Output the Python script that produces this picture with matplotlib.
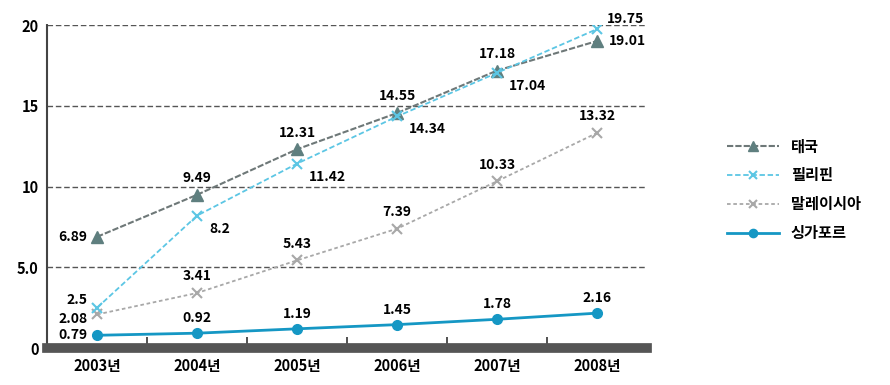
import matplotlib.pyplot as plt
import numpy as np

plt.rcParams['font.family'] = ['Noto Sans CJK KR', 'DejaVu Sans']

# --- data ---
years = ['2003년', '2004년', '2005년', '2006년', '2007년', '2008년']
thailand = [6.89, 9.49, 12.31, 14.55, 17.18, 19.01]
philippines = [2.5, 8.2, 11.42, 14.34, 17.04, 19.75]
malaysia = [2.08, 3.41, 5.43, 7.39, 10.33, 13.32]
singapore = [0.79, 0.92, 1.19, 1.45, 1.78, 2.16]
yticks = [0, 5, 10, 15, 20]
ytick_labels = ['0', '5.0', '10', '15', '20']

fig = plt.figure(figsize=(8.9, 3.85), dpi=100)
ax = fig.add_axes([0.053, 0.096, 0.674, 0.839])
x = np.arange(len(years))

ax.plot(x, thailand, color='#6e7878', lw=1.5, ls=(0, (3, 1)), marker='^', ms=8,
        mfc='#5f7f7f', mec='#5f7f7f', label='태국', zorder=4)
ax.plot(x, philippines, color='#5cc6e4', lw=1.3, ls=(0, (3, 1.5)), marker='x', ms=7,
        mew=1.5, label='필리핀', zorder=4)
ax.plot(x, malaysia, color='#a8a8a8', lw=1.3, ls=(0, (2, 1.5)), marker='x', ms=7,
        mew=1.5, label='말레이시아', zorder=3)
ax.plot(x, singapore, color='#1597c4', lw=2, marker='o', ms=7,
        label='싱가포르', zorder=4)

ax.set_xlim(-0.5, len(years) - 0.5)
ax.set_ylim(0, 20)
ax.set_yticks(yticks)
ax.set_yticklabels(ytick_labels, fontsize=10.5, fontweight='bold')
ax.set_xticks(x)
ax.set_xticklabels(years, fontsize=10.5, fontweight='bold')
ax.tick_params(axis='x', length=0, pad=7)
ax.tick_params(axis='y', length=0, pad=6)
ax.set_xticks(np.arange(0.5, len(years) - 1, 1), minor=True)
ax.tick_params(axis='x', which='minor', direction='in', length=8, width=1.2, color='#333333')

ax.grid(axis='y', ls=(0, (4, 2)), color='#555555', lw=1)
ax.set_axisbelow(True)
for s in ['top', 'right']:
    ax.spines[s].set_visible(False)
ax.spines['left'].set_linestyle((0, (1, 1)))
ax.spines['left'].set_color('#444444')
ax.spines['left'].set_linewidth(1.5)
ax.spines['bottom'].set_color('#555555')
ax.spines['bottom'].set_linewidth(7)

fs = 10
kw = dict(fontsize=fs, fontweight='bold', color='black')

# Thailand labels
ax.text(0 - 0.1, thailand[0], f'{thailand[0]:.2f}', ha='right', va='center', **kw)
for i in range(1, 5):
    ax.text(i, thailand[i] + 0.6, f'{thailand[i]:.2f}', ha='center', va='bottom', **kw)
ax.text(5 + 0.12, thailand[5], f'{thailand[5]:.2f}', ha='left', va='center', **kw)

# Philippines labels
ax.text(0 - 0.1, philippines[0] + 0.5, '2.5', ha='right', va='center', **kw)
for i in range(1, 5):
    lab = '8.2' if i == 1 else f'{philippines[i]:.2f}'
    ax.text(i + 0.12, philippines[i] - 0.8, lab, ha='left', va='center', **kw)
ax.text(5 + 0.1, philippines[5] + 0.6, f'{philippines[5]:.2f}', ha='left', va='center', **kw)

# Malaysia labels
ax.text(0 - 0.1, malaysia[0] - 0.3, f'{malaysia[0]:.2f}', ha='right', va='center', **kw)
for i in range(1, 6):
    ax.text(i, malaysia[i] + 0.6, f'{malaysia[i]:.2f}', ha='center', va='bottom', **kw)

# Singapore labels
ax.text(0 - 0.1, singapore[0], f'{singapore[0]:.2f}', ha='right', va='center', **kw)
for i in range(1, 6):
    ax.text(i, singapore[i] + 0.5, f'{singapore[i]:.2f}', ha='center', va='bottom', **kw)

leg = ax.legend(loc='center left', bbox_to_anchor=(1.11, 0.49), frameon=False,
                prop={'size': 11, 'weight': 'bold'}, handlelength=3.4,
                labelspacing=0.85, markerscale=0.85)

plt.savefig('out.png', dpi=100)
